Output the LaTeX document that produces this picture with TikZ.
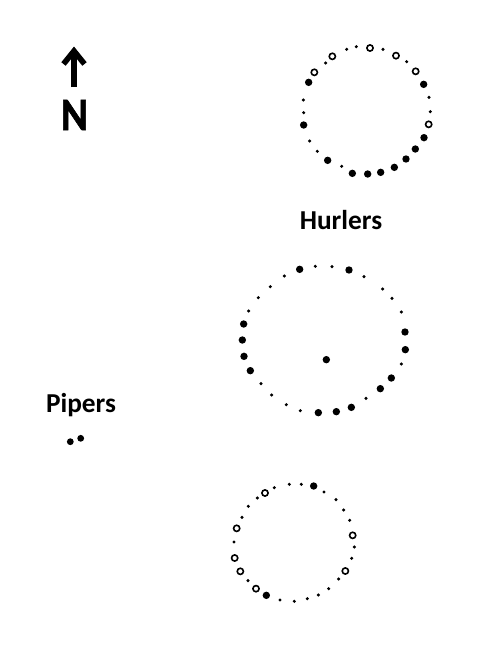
\documentclass[tikz,border=0pt]{standalone}
\usepackage{fontspec}
\setmainfont{Carlito}
\newfontfamily\heavyfont[FakeBold=1.5]{Carlito}
\newcommand{\bigdots}[3]{\foreach \a/\b in {#3} \fill ({#1+\a/3},{#2+\b/3}) circle[radius=3.7];}
\newcommand{\opendots}[3]{\foreach \a/\b in {#3} \draw[line width=1.2,fill=white] ({#1+\a/3},{#2+\b/3}) circle[radius=3.1];}
\newcommand{\smalldots}[3]{\foreach \a/\b in {#3} \fill ({#1+\a/3},{#2+\b/3}) circle[radius=1.7];}
\tikzset{lab/.style={font=\bfseries\fontsize{20.5}{24}\selectfont,inner sep=0pt}}
\begin{document}
\begin{tikzpicture}[x=0.75pt,y=-0.75pt]
\useasboundingbox (0,0) rectangle (500,650);
\fill[white] (0,0) rectangle (500,650);
% north marker
\node[font=\heavyfont\bfseries\fontsize{35}{40}\selectfont,inner sep=0pt,xscale=0.88] (north) at (74.5,115) {N};
\coordinate (tail) at (74,87);
\coordinate (tip) at (74,51);
\coordinate (hl) at (63.5,64);
\coordinate (hr) at (84.5,64);
\draw[line width=4.6] (tail) -- (tip);
\draw[line width=4.2,miter limit=10] (hl) -- (tip) -- (hr);
% labels
\node[lab] (hurlers) at (341,220) {Hurlers};
\node[lab] (pipers) at (81,405) {Pipers};
% pipers
\fill (70.3,441.7) circle[radius=3.4];
\fill (80.7,438.3) circle[radius=3.4];
% Circle 1
\bigdots{290}{30}{56/157,401/163,41/285,402/323,376/357,348/387,313/412,272/427,233/432,187/430,113/391}
\opendots{290}{30}{240/54,318/77,377/124,416/283,127/79,73/127}
\smalldots{290}{30}{170/58,199/50,279/58,350/95,107/99,417/202,421/245,40/210,41/248,59/333,82/364,155/409}
% Circle 2
\bigdots{225}{255}{224/43,372/45,56/207,52/255,57/304,76/347,540/231,541/284,304/314,499/369,466/401,379/457,334/470,280/473}
\smalldots{225}{255}{271/34,321/35,417/65,473/102,501/130,529/171,529/327,423/430,178/63,136/95,100/128,71/168,108/386,140/420,184/449,226/467}
% Circle 3
\bigdots{220}{470}{281/48,139/376}
\opendots{220}{470}{135/69,50/175,44/264,61/304,108/356,398/196,376/303}
\smalldots{220}{470}{163/53,208/43,244/43,312/66,348/89,371/120,389/151,403/231,395/265,356/327,326/356,295/375,262/386,223/394,180/390,84/332,42/216,66/142,85/109,112/84}
\end{tikzpicture}
\end{document}
